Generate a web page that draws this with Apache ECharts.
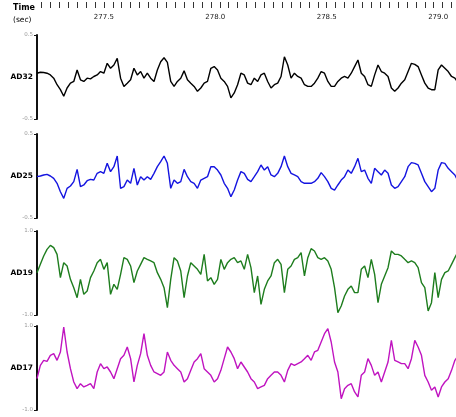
<!DOCTYPE html>
<html><head><meta charset="utf-8">
<script src="https://cdn.jsdelivr.net/npm/echarts@6/dist/echarts.min.js"></script>
<style>html,body{margin:0;padding:0;background:#fff}#c{width:456px;height:417px}</style>
</head><body><div id="c"></div>
<script>
const channels = ['AD32', 'AD25', 'AD19', 'AD17'];
const colors = ['#000000', '#1414e0', '#1e7d1e', '#c014c0'];
const yLimits = [0.5, 0.5, 1.0, 1.0];
const timeLabels = [277.5, 278.0, 278.5, 279.0];
const timeMin = 277.2, timeMax = 279.08;
const tickStart = 277.22, tickStep = 0.04;
const sampleStart = 277.2, sampleStep = 0.015;

const ad32 = [
0.045,0.057,0.053,0.045,0.025,-0.014,-0.092,-0.151,-0.229,-0.131,
-0.073,-0.053,0.084,-0.033,-0.053,-0.014,-0.022,0.006,0.025,0.065,
0.045,0.163,0.104,0.143,0.222,-0.014,-0.112,-0.073,-0.033,0.104,
0.025,0.065,-0.014,0.045,-0.014,-0.053,0.084,0.182,0.229,0.175,
-0.053,-0.112,-0.053,-0.014,0.073,-0.033,-0.073,-0.112,-0.171,-0.131,
-0.073,-0.053,0.104,0.124,0.084,-0.014,-0.053,-0.112,-0.249,-0.190,
-0.092,0.045,0.025,-0.073,-0.092,-0.014,-0.053,0.025,0.045,-0.053,
-0.131,-0.092,-0.073,0.006,0.241,0.143,-0.014,0.045,0.006,-0.014,
-0.092,-0.112,-0.112,-0.073,-0.014,0.065,0.045,-0.053,-0.112,-0.112,
-0.053,-0.014,0.006,-0.014,0.045,0.124,0.202,0.045,0.006,-0.092,
-0.112,0.025,0.143,0.065,0.045,0.006,-0.131,-0.171,-0.131,-0.073,
-0.033,0.065,0.163,0.151,0.124,0.025,-0.073,-0.131,-0.151,-0.151,
0.084,0.143,0.104,0.065,0.006,-0.014,-0.073];

const ad25 = [
-0.008,0.000,0.012,0.020,0.000,-0.028,-0.087,-0.187,-0.266,-0.147,
-0.119,-0.067,0.079,-0.127,-0.107,-0.056,-0.040,-0.048,0.032,0.052,
0.032,0.151,0.052,0.111,0.238,-0.147,-0.127,-0.048,-0.087,0.091,
-0.107,-0.008,-0.048,-0.008,-0.040,0.032,0.111,0.171,0.238,0.151,
-0.147,-0.048,-0.087,-0.067,0.079,-0.008,-0.067,-0.087,-0.147,-0.048,
-0.028,-0.008,0.111,0.111,0.071,0.012,-0.087,-0.147,-0.246,-0.167,
-0.048,0.052,0.032,-0.040,-0.067,-0.008,0.052,0.131,0.071,0.111,
0.012,-0.008,0.032,0.111,0.238,0.111,0.032,0.012,-0.008,-0.067,
-0.087,-0.087,-0.087,-0.067,-0.028,0.040,-0.008,-0.067,-0.147,-0.167,
-0.107,-0.048,-0.008,0.071,0.032,0.111,0.210,0.052,0.071,-0.028,
-0.087,0.091,0.052,0.012,0.071,0.032,-0.107,-0.147,-0.127,-0.067,
-0.008,0.111,0.159,0.151,0.131,0.032,-0.067,-0.127,-0.187,-0.147,
0.071,0.159,0.151,0.091,0.052,0.012,-0.067];

const ad19 = [
0.008,0.206,0.405,0.563,0.659,0.603,0.444,-0.111,0.246,0.167,
-0.151,-0.349,-0.587,-0.151,-0.508,-0.429,-0.111,0.048,0.246,0.325,
0.087,0.246,-0.508,-0.270,-0.389,-0.032,0.365,0.325,0.167,-0.230,
0.048,0.206,0.365,0.325,0.286,0.246,0.008,-0.151,-0.349,-0.825,
-0.151,0.365,0.286,0.048,-0.587,-0.071,0.246,0.167,0.087,-0.032,
0.444,-0.190,-0.111,-0.270,-0.151,0.325,0.087,0.246,0.325,0.365,
0.246,0.286,0.087,0.444,0.127,-0.468,-0.071,-0.746,-0.389,-0.190,
-0.071,0.246,0.325,0.206,-0.468,0.087,0.167,0.325,0.365,0.484,
-0.071,0.365,0.579,0.524,0.365,0.325,0.365,0.286,0.087,-0.349,
-0.944,-0.786,-0.548,-0.389,-0.310,-0.468,-0.468,0.087,0.167,-0.111,
0.325,-0.032,-0.706,-0.270,-0.071,0.127,0.524,0.444,0.444,0.405,
0.325,0.246,0.286,0.246,0.127,-0.230,-0.349,-0.905,-0.706,0.008,
-0.587,-0.151,0.008,0.048,0.206,0.365,0.524];

const ad17 = [
-0.254,0.063,0.183,0.159,0.302,0.341,0.183,0.381,0.976,0.381,
-0.016,-0.333,-0.492,-0.373,-0.452,-0.413,-0.373,-0.492,-0.095,0.103,
-0.016,0.024,-0.095,-0.254,-0.016,0.222,0.302,0.500,0.222,-0.333,
0.063,0.341,0.817,0.302,0.063,-0.095,-0.135,-0.175,-0.095,0.381,
0.183,0.063,-0.016,-0.095,-0.333,-0.254,-0.056,0.143,0.222,0.341,
-0.016,-0.095,-0.175,-0.333,-0.254,-0.056,0.222,0.500,0.381,0.222,
-0.016,0.143,0.024,-0.095,-0.254,-0.333,-0.492,-0.452,-0.413,-0.254,
-0.175,-0.095,-0.095,-0.175,-0.333,-0.056,0.103,0.063,0.103,0.143,
0.222,0.302,0.183,0.381,0.421,0.619,0.817,0.937,0.619,0.143,
-0.095,-0.730,-0.492,-0.413,-0.373,-0.571,-0.690,-0.175,-0.095,0.222,
0.063,-0.175,-0.095,-0.333,-0.095,0.143,0.659,0.183,0.143,0.103,
0.103,-0.016,0.222,0.659,0.500,0.302,-0.175,-0.333,-0.532,-0.452,
-0.690,-0.452,-0.333,-0.254,-0.056,0.183,0.302];

const signals = [ad32, ad25, ad19, ad17];

const tickValues = [];
for (let t = tickStart; t <= timeMax + 1e-9; t += tickStep) tickValues.push(Math.round(t * 1000) / 1000);

const gridTops = [35, 134, 231, 326];
const font = 'DejaVu Sans';

const grids = gridTops.map(t => ({ left: 37, right: 0, top: t, height: 84 }));
const xAxes = grids.map((g, i) => ({ gridIndex: i, type: 'value', min: timeMin, max: timeMax, show: false }));
xAxes.push({
  gridIndex: 0, type: 'value', position: 'top', offset: 33, min: timeMin, max: timeMax,
  axisLine: { show: false }, splitLine: { show: false },
  axisTick: { show: true, inside: true, length: 6, customValues: tickValues, lineStyle: { color: '#333', width: 1 } },
  axisLabel: { show: true, inside: true, margin: 12, customValues: timeLabels,
    formatter: v => v.toFixed(1), fontSize: 7, color: '#222', fontFamily: font }
});
const yAxes = yLimits.map((lim, i) => ({
  gridIndex: i, type: 'value', min: -lim, max: lim,
  axisLine: { show: true, lineStyle: { color: '#111', width: 2 } },
  axisTick: { show: true, length: 3, customValues: [-lim, lim], lineStyle: { color: '#111', width: 1 } },
  splitLine: { show: false },
  axisLabel: {
    show: true, margin: 4, customValues: [-lim, 0, lim],
    formatter: v => Math.abs(v) < 1e-9 ? '{n|' + channels[i] + '}' : '{v|' + v.toFixed(1) + '}',
    rich: {
      n: { fontSize: 7.5, fontWeight: 'bold', color: '#000', fontFamily: font },
      v: { fontSize: 5.5, color: '#999', fontFamily: font }
    }
  }
}));
const series = signals.map((arr, i) => ({
  type: 'line', xAxisIndex: i, yAxisIndex: i, symbol: 'none', showSymbol: false,
  lineStyle: { color: colors[i], width: 1.4 }, itemStyle: { color: colors[i] },
  data: arr.map((v, k) => [sampleStart + k * sampleStep, v])
}));

const chart = echarts.init(document.getElementById('c'), null, { renderer: 'canvas' });
chart.setOption({
  animation: false,
  backgroundColor: '#fff',
  textStyle: { fontFamily: font },
  grid: grids, xAxis: xAxes, yAxis: yAxes, series: series,
  graphic: [
    { type: 'text', left: 13, top: 4, style: { text: 'Time', font: 'bold 8px "DejaVu Sans"', fill: '#000' } },
    { type: 'text', left: 13, top: 16, style: { text: '(sec)', font: '7.5px "DejaVu Sans"', fill: '#000' } }
  ]
});
</script>
</body></html>
